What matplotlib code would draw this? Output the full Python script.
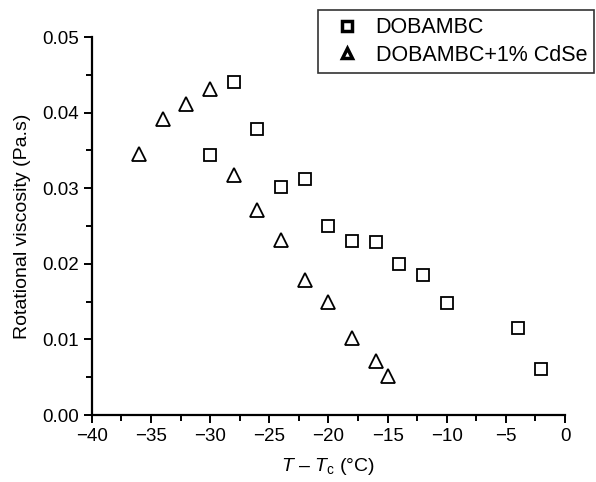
import matplotlib
matplotlib.use('Agg')
import matplotlib.pyplot as plt
from matplotlib.ticker import MultipleLocator

plt.rcParams['font.family'] = 'Liberation Sans'
plt.rcParams['mathtext.fontset'] = 'custom'
plt.rcParams['mathtext.rm'] = 'Liberation Sans'
plt.rcParams['mathtext.it'] = 'Liberation Sans:italic'

pure_x = [-30, -28, -26, -24, -22, -20, -18, -16, -14, -12, -10, -4, -2]
pure_y = [0.0344, 0.0441, 0.0379, 0.0302, 0.0312, 0.0250, 0.0230, 0.0229, 0.0200, 0.0185, 0.0148, 0.0115, 0.0061]
cdse_x = [-36, -34, -32, -30, -28, -26, -24, -22, -20, -18, -16, -15]
cdse_y = [0.0345, 0.0392, 0.0412, 0.0432, 0.0318, 0.0271, 0.0231, 0.0178, 0.0150, 0.0102, 0.0072, 0.0052]

fig = plt.figure(figsize=(5.96, 4.82), dpi=100)
ax = fig.add_axes([0.154, 0.139, 0.794, 0.784])
ax.plot(pure_x, pure_y, linestyle='none', marker='s', markersize=8, markerfacecolor='white',
        markeredgecolor='black', markeredgewidth=1.3, label='DOBAMBC')
ax.plot(cdse_x, cdse_y, linestyle='none', marker='^', markersize=10, markerfacecolor='white',
        markeredgecolor='black', markeredgewidth=1.3, label='DOBAMBC+1% CdSe')

ax.set_xlim(-40, 0)
ax.set_ylim(0, 0.05)
ax.xaxis.set_major_locator(MultipleLocator(5))
ax.xaxis.set_minor_locator(MultipleLocator(2.5))
ax.yaxis.set_major_locator(MultipleLocator(0.01))
ax.yaxis.set_minor_locator(MultipleLocator(0.005))
ax.yaxis.set_major_formatter(plt.FormatStrFormatter('%.2f'))
ax.xaxis.set_major_formatter(plt.FuncFormatter(lambda v, p: ('%d' % v).replace('-', '\u2212')))
ax.spines['top'].set_visible(False)
ax.spines['right'].set_visible(False)
ax.spines['left'].set_linewidth(1.6)
ax.spines['bottom'].set_linewidth(1.6)
ax.tick_params(which='major', direction='out', length=6, width=1.4, labelsize=13.5, pad=3)
ax.tick_params(which='minor', direction='out', length=4, width=1.4)
ax.set_xlabel('$T$ \u2013 $T_\\mathrm{c}$ (\u00b0C)', fontsize=14, labelpad=8)
ax.set_ylabel('Rotational viscosity (Pa.s)', fontsize=14, labelpad=8)

leg = fig.legend(loc='upper left', bbox_to_anchor=(0.5336, 0.979), borderaxespad=0,
                 fontsize=15.5, frameon=True, fancybox=False, edgecolor='black',
                 handletextpad=0.35, borderpad=0.33, labelspacing=0.3, handlelength=2.0)
leg.get_frame().set_linewidth(1.2)
for h in leg.legend_handles:
    h.set_markersize(6.5)
    h.set_markeredgewidth(2.5)

plt.savefig('out.png', dpi=100)
